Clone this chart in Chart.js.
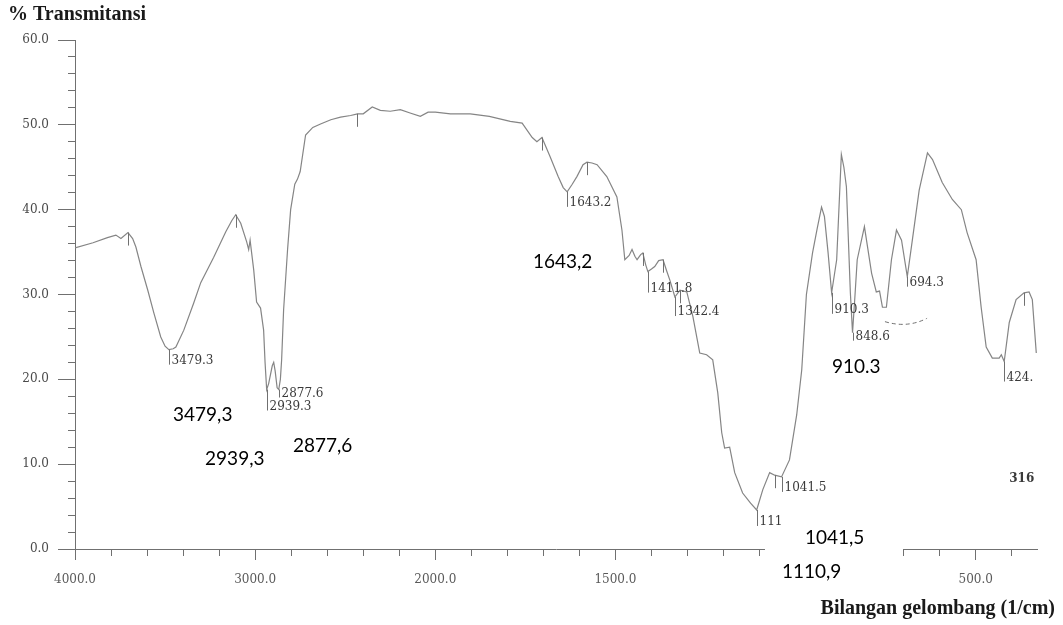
<!DOCTYPE html>
<html>
<head>
<meta charset="utf-8">
<script src="https://cdn.jsdelivr.net/npm/chart.js"></script>
<style>
  html, body { margin: 0; background: #fff; }
  #wrap { width: 1063px; height: 625px; position: relative; }
</style>
</head>
<body>
<div id="wrap"><canvas id="ir"></canvas></div>
<script>
// spectrum (wavenumber 1/cm, % transmittance)
const wavenumber = [
  4000, 3900, 3820, 3773, 3745, 3706, 3680, 3662, 3634, 3596, 3562, 3524, 3500, 3479, 3455, 3440,
  3396, 3341, 3302, 3230, 3163, 3130, 3108, 3080, 3047, 3036, 3028, 3020, 3008, 2992, 2970, 2953,
  2945, 2936, 2925, 2905, 2897, 2889, 2878, 2869, 2860, 2853, 2842, 2820, 2803, 2780, 2765, 2750,
  2720, 2680, 2637, 2580, 2526, 2470, 2432, 2400, 2350, 2305, 2250, 2194, 2140, 2083, 2040, 2000,
  1958, 1903, 1850, 1792, 1759, 1731, 1718, 1704, 1681, 1659, 1645, 1634, 1620, 1607, 1590, 1579,
  1565, 1551, 1524, 1496, 1482, 1474, 1462, 1454, 1446, 1440, 1430, 1424, 1416, 1410, 1400, 1391,
  1380, 1368, 1358, 1349, 1335, 1321, 1302, 1285, 1266, 1247, 1230, 1216, 1205, 1197, 1183, 1169,
  1147, 1125, 1108, 1091, 1072, 1058, 1039, 1017, 997, 983, 970, 953, 940, 928, 920, 910,
  900, 886, 873, 866, 859, 848, 842, 835, 829, 809, 789, 776, 767, 759, 748, 734,
  720, 706, 690, 676, 657, 634, 620, 593, 565, 540, 524, 499, 485, 471, 454, 435,
  429, 421, 407, 388, 366, 352, 343, 332
];
const transmittance = [
  35.5, 36.1, 36.7, 37.0, 36.6, 37.3, 36.6, 35.6, 33.3, 30.5, 27.8, 25.0, 23.9, 23.5, 23.6, 23.8,
  25.8, 29.0, 31.4, 34.4, 37.4, 38.7, 39.4, 38.4, 36.2, 35.3, 36.4, 35.0, 32.9, 29.1, 28.4, 25.8,
  22.0, 18.8, 19.5, 21.6, 22.0, 21.0, 19.0, 18.8, 20.0, 22.3, 28.2, 35.3, 40.0, 43.0, 43.6, 44.5,
  48.8, 49.7, 50.1, 50.6, 50.9, 51.1, 51.3, 51.3, 52.1, 51.7, 51.6, 51.8, 51.4, 51.0, 51.5, 51.5,
  51.3, 51.3, 51.0, 50.4, 50.2, 48.5, 48.0, 48.5, 46.2, 43.9, 42.6, 42.1, 43.0, 43.9, 45.3, 45.6,
  45.5, 45.3, 43.9, 41.5, 37.6, 34.1, 34.6, 35.3, 34.5, 34.1, 34.7, 34.9, 33.5, 32.7, 33.0, 33.3,
  34.0, 34.1, 32.8, 31.7, 29.7, 30.5, 30.3, 27.4, 23.1, 22.9, 22.3, 18.4, 13.7, 11.9, 12.0, 9.0,
  6.6, 5.4, 4.6, 7.0, 9.0, 8.7, 8.5, 10.5, 15.8, 21.1, 30.0, 34.9, 37.8, 40.3, 39.2, 35.0,
  30.2, 34.1, 46.5, 45.0, 42.7, 30.2, 25.5, 30.0, 34.1, 38.0, 32.5, 30.3, 30.4, 28.5, 28.5, 34.1,
  37.6, 36.4, 32.1, 36.4, 42.3, 46.7, 45.9, 43.2, 41.2, 40.0, 37.3, 34.1, 28.5, 23.8, 22.5, 22.5,
  22.9, 22.1, 26.7, 29.4, 30.2, 30.3, 29.4, 23.1
];

// axis ticks
const xTicks = [4000, 3800, 3600, 3400, 3200, 3000, 2800, 2600, 2400, 2200, 2000,
  1900, 1800, 1700, 1600, 1500, 1400, 1300, 1200, 1100, 1000, 900, 800, 700, 600, 500, 400];
const xTickLabels = [4000, 3000, 2000, 1500, 1000, 500];
const yTicks = [0, 2, 4, 6, 8, 10, 12, 14, 16, 18, 20, 22, 24, 26, 28, 30, 32, 34, 36, 38, 40,
  42, 44, 46, 48, 50, 52, 54, 56, 58, 60];
const yTickLabels = [0, 10, 20, 30, 40, 50, 60];

// peak picks printed on the scan
const peakWn = [3479, 2936, 2869, 1634, 1410, 1335, 1108, 1039, 900, 842, 690, 421];
const peakT = [23.5, 18.8, 18.8, 42.1, 32.7, 29.7, 4.6, 8.5, 30.2, 25.5, 32.1, 22.1];
const peakText = ['3479.3', '2939.3', '2877.6', '1643.2', '1411.8', '1342.4', '1110.9', '1041.5',
  '910.3', '848.6', '694.3', '424.'];
const pickWn = [3706, 3108, 2432, 1704, 1579, 1424, 1368, 1321, 1058, 366];
const pickT = [37.3, 39.4, 51.3, 48.5, 45.6, 34.9, 34.1, 30.5, 8.7, 30.2];

// typed notes pasted on top of the scan
const noteText = ['3479,3', '2939,3', '2877,6', '1643,2', '910.3', '1041,5', '1110,9'];
const noteWn = [3456, 3278, 2790, 1729, 899, 974, 1038];
const noteT = [15.8, 10.6, 12.1, 33.8, 21.5, 1.3, -2.7];

// label layout (pixels)
const peakDrop = [11, 17, 4, 11, 17, 15, 12, 11, 17, 4, 6, 16];

// 4000-2000 at one scale, below 2000 at double scale
const BREAK = 2000;
class IRScale extends Chart.LinearScale {
  units(v) { return v >= BREAK ? this.max - v : (this.max - BREAK) + 2 * (BREAK - v); }
  getPixelForValue(v) {
    if (v === null || v === undefined || isNaN(v)) return NaN;
    return this.getPixelForDecimal(this.units(v) / this.units(this.min));
  }
  getValueForPixel(p) {
    const u = this.getDecimalForPixel(p) * this.units(this.min);
    const hi = this.max - BREAK;
    return u <= hi ? this.max - u : BREAK - (u - hi) / 2;
  }
}
IRScale.id = 'irscale';
IRScale.defaults = Chart.LinearScale.defaults;
Chart.register(IRScale);

const overlay = {
  id: 'overlay',
  afterDatasetsDraw(chart) {
    const { ctx, scales: { x, y } } = chart;
    ctx.save();
    ctx.strokeStyle = '#707070';
    ctx.lineWidth = 1;
    pickWn.forEach((w, i) => {
      const px = Math.round(x.getPixelForValue(w)) + 0.5;
      const py = y.getPixelForValue(pickT[i]);
      ctx.beginPath();
      ctx.moveTo(px, py);
      ctx.lineTo(px, py + 13);
      ctx.stroke();
    });
    ctx.font = '12px "DejaVu Serif"';
    ctx.fillStyle = '#3a3a3a';
    ctx.textAlign = 'left';
    ctx.textBaseline = 'middle';
    peakWn.forEach((w, i) => {
      const px = Math.round(x.getPixelForValue(w)) + 0.5;
      const py = y.getPixelForValue(peakT[i]);
      const ly = py + peakDrop[i];
      ctx.beginPath();
      ctx.moveTo(px, py);
      ctx.lineTo(px, ly + 4);
      ctx.stroke();
      ctx.fillText(peakText[i], px + 2, ly);
    });
    ctx.font = 'bold 12px "DejaVu Serif"';
    ctx.fillText('316', x.getPixelForValue(407), y.getPixelForValue(8.3));
    // smudge near 750
    ctx.setLineDash([4, 3]);
    ctx.beginPath();
    ctx.moveTo(x.getPixelForValue(752), y.getPixelForValue(26.8));
    ctx.quadraticCurveTo(x.getPixelForValue(690), y.getPixelForValue(26.0),
      x.getPixelForValue(635), y.getPixelForValue(27.2));
    ctx.stroke();
    ctx.restore();
  },
  afterDraw(chart) {
    const { ctx, scales: { x, y } } = chart;
    ctx.save();
    // white paste-over boxes under the typed notes
    ctx.fillStyle = '#fff';
    const a = x.getPixelForValue(1035), b = x.getPixelForValue(1085), c = x.getPixelForValue(702);
    ctx.fillRect(a, y.getPixelForValue(4.3), c - a, 42);
    ctx.fillRect(b, y.getPixelForValue(0.5), c - b, 52);
    ctx.fillStyle = '#000';
    ctx.font = '19px Lato';
    ctx.textAlign = 'left';
    ctx.textBaseline = 'middle';
    noteText.forEach((t, i) => {
      ctx.fillText(t, x.getPixelForValue(noteWn[i]), y.getPixelForValue(noteT[i]));
    });
    ctx.fillStyle = '#1a1a1a';
    ctx.font = 'bold 20px "Liberation Serif"';
    ctx.fillText('% Transmitansi', 8, 15);
    ctx.font = 'bold 20px "Liberation Serif"';
    ctx.textAlign = 'right';
    ctx.fillText('Bilangan gelombang (1/cm)', 1055, 609);
    ctx.restore();
  }
};

new Chart(document.getElementById('ir'), {
  type: 'line',
  data: {
    datasets: [{
      data: wavenumber.map((w, i) => ({ x: w, y: transmittance[i] })),
      borderColor: '#858585',
      borderWidth: 1.2,
      pointRadius: 0,
      tension: 0,
      fill: false
    }]
  },
  options: {
    responsive: true,
    maintainAspectRatio: false,
    animation: false,
    layout: { padding: { left: 0, right: 26, top: 40, bottom: 0 } },
    plugins: { legend: { display: false }, tooltip: { enabled: false } },
    scales: {
      x: {
        type: 'irscale',
        min: 330,
        max: 4000,
        bounds: 'data',
        afterFit: s => { s.height = 76; },
        afterBuildTicks: s => { s.ticks = xTicks.map(v => ({ value: v })); },
        border: { color: '#707070', width: 1 },
        grid: {
          drawOnChartArea: false,
          tickLength: 11,
          tickColor: '#707070',
          tickBorderDash: c => xTickLabels.includes(c.tick.value) ? [] : [6, 20]
        },
        ticks: {
          autoSkip: false,
          maxRotation: 0,
          padding: 13,
          color: '#5a5a5a',
          font: { family: 'DejaVu Serif', size: 12 },
          callback: v => xTickLabels.includes(v) ? v.toFixed(1) : ''
        }
      },
      y: {
        min: 0,
        max: 60,
        bounds: 'data',
        afterFit: s => { s.width = 75; },
        afterBuildTicks: s => { s.ticks = yTicks.map(v => ({ value: v })); },
        border: { color: '#707070', width: 1 },
        grid: {
          drawOnChartArea: false,
          tickLength: 17,
          tickColor: '#707070',
          tickBorderDash: c => yTickLabels.includes(c.tick.value) ? [] : [0, 10, 7, 0]
        },
        ticks: {
          autoSkip: false,
          padding: 9,
          color: '#4a4a4a',
          font: { family: 'DejaVu Serif', size: 12 },
          callback: v => yTickLabels.includes(v) ? v.toFixed(1) : ''
        }
      }
    }
  },
  plugins: [overlay]
});
</script>
</body>
</html>
